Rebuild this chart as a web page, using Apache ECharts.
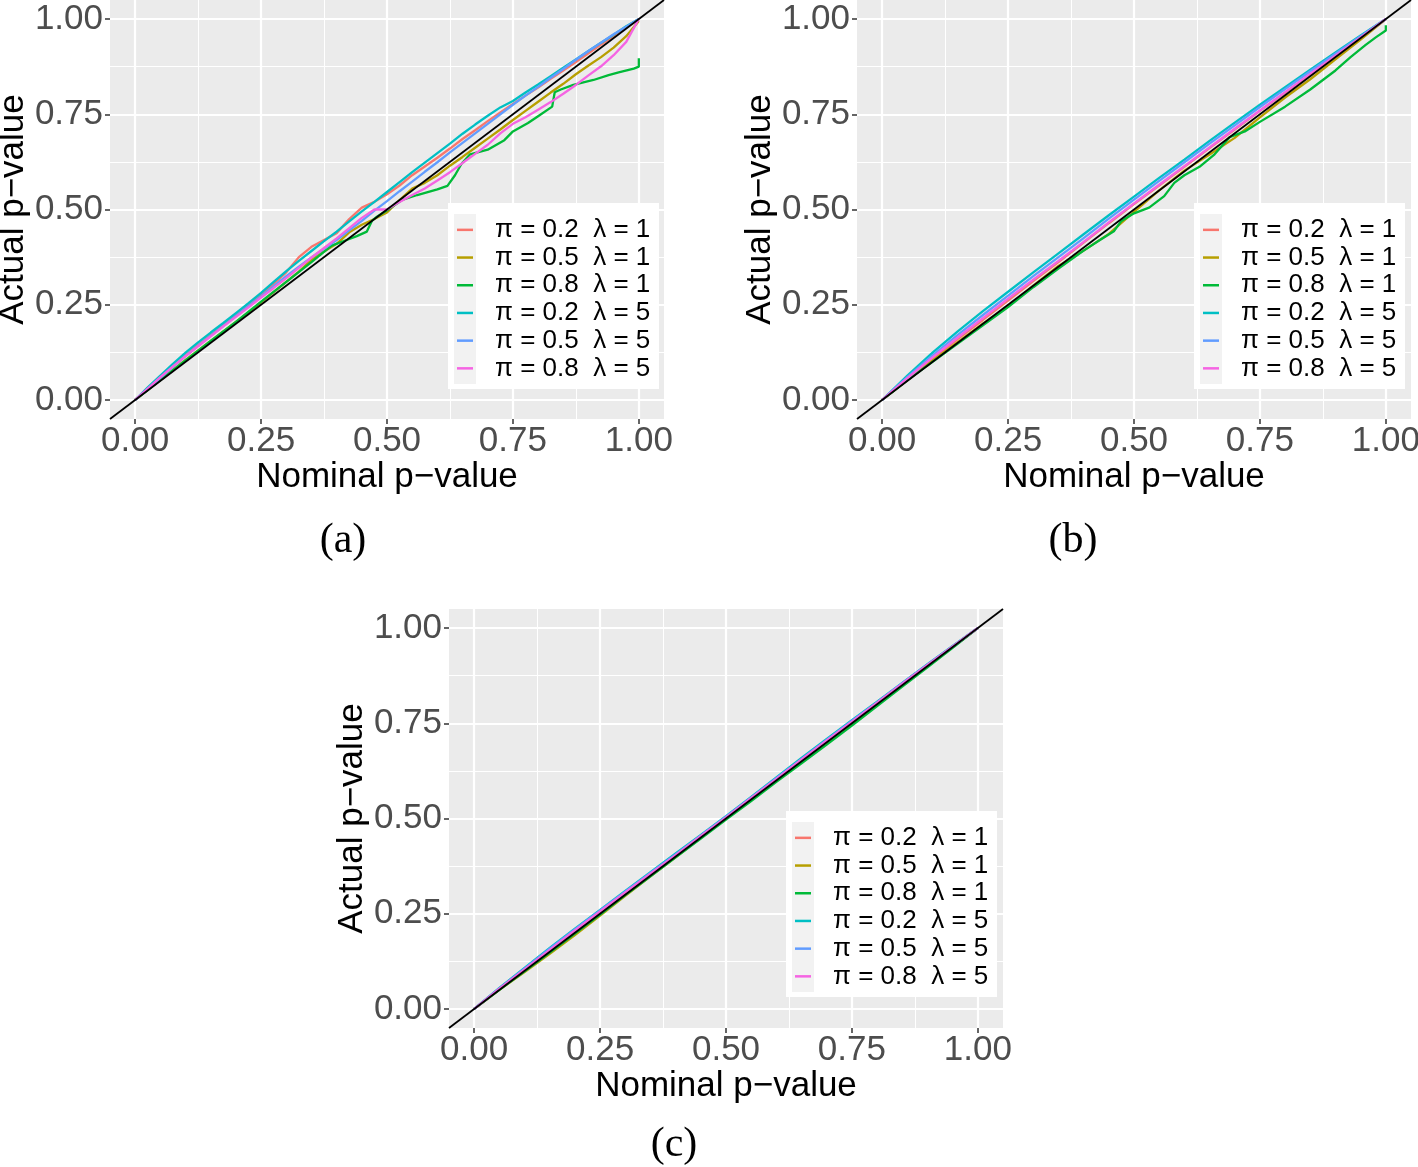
<!DOCTYPE html>
<html><head><meta charset="utf-8">
<script src="https://cdn.jsdelivr.net/npm/echarts@6/dist/echarts.min.js"></script>
<style>html,body{margin:0;padding:0;background:#fff}#c{width:1418px;height:1167px}</style>
</head><body><div id="c"></div>
<script>
// ---------- data ----------
const SERIES_NAMES = ['π = 0.2  λ = 1','π = 0.5  λ = 1','π = 0.8  λ = 1','π = 0.2  λ = 5','π = 0.5  λ = 5','π = 0.8  λ = 5'];
const SERIES_COLORS = ['#F8766D','#B79F00','#00BA38','#00BFC4','#619CFF','#F564E3'];
const MAJOR_BREAKS = [0, 0.25, 0.5, 0.75, 1];
const MINOR_BREAKS = [0.125, 0.375, 0.625, 0.875];
const X_TITLE = 'Nominal p\u2212value';
const Y_TITLE = 'Actual p\u2212value';
const CAPTIONS = ['(a)', '(b)', '(c)'];
const DIAG = [-0.05, 1.05];

// panel (a)
const NOM_A = [0,.025,.05,.075,.1,.125,.15,.175,.2,.225,.25,.275,.3,.325,.35,.375,.4,.425,.45,.475,.5,.525,.55,.575,.6,.625,.65,.675,.7,.725,.75,.775,.8,.825,.85,.875,.9,.925,.95,.975,1];
const A_RED   = [0,.03,.06,.089,.117,.144,.17,.196,.222,.249,.277,.305,.335,.375,.402,.42,.438,.475,.505,.52,.54,.563,.59,.613,.636,.66,.685,.708,.732,.755,.777,.799,.82,.843,.865,.887,.91,.933,.955,.978,1];
const A_OLIVE = [0,.027,.053,.079,.105,.13,.155,.18,.205,.23,.256,.283,.31,.337,.368,.39,.41,.44,.46,.475,.492,.525,.555,.57,.59,.615,.638,.662,.686,.71,.735,.759,.783,.807,.83,.855,.878,.9,.925,.955,.995];
const A_GREEN_X = [0,.05,.1,.15,.2,.25,.3,.35,.39,.42,.44,.46,.47,.48,.5,.53,.56,.6,.62,.635,.648,.665,.7,.733,.75,.78,.8,.828,.833,.845,.87,.91,.94,.96,.99,1,1];
const A_GREEN_Y = [0,.052,.104,.155,.205,.258,.31,.362,.405,.42,.43,.442,.47,.481,.498,.525,.538,.553,.562,.59,.62,.645,.657,.682,.705,.727,.745,.77,.808,.815,.827,.84,.853,.86,.87,.875,.897];
const A_CYAN  = [0,.033,.064,.095,.124,.151,.177,.202,.228,.254,.281,.31,.338,.365,.391,.417,.442,.469,.495,.52,.546,.572,.598,.623,.648,.673,.699,.723,.746,.768,.785,.807,.828,.85,.872,.894,.916,.938,.959,.981,1];
const A_BLUE  = [0,.03,.058,.087,.115,.142,.168,.194,.22,.246,.272,.299,.325,.35,.374,.397,.42,.445,.47,.497,.522,.548,.573,.599,.624,.65,.675,.7,.725,.75,.775,.799,.822,.846,.869,.893,.916,.938,.96,.98,1];
const A_PINK  = [0,.03,.06,.088,.115,.141,.167,.193,.218,.243,.269,.294,.32,.347,.374,.399,.424,.451,.478,.5,.5,.52,.538,.555,.576,.598,.622,.646,.67,.7,.725,.742,.762,.782,.804,.827,.852,.876,.905,.94,1];

// panel (b)
const NOM_B = [0,.05,.1,.15,.2,.25,.3,.35,.4,.45,.5,.55,.6,.65,.7,.75,.8,.85,.9,.95,1];
const B_RED   = [0,.055,.108,.16,.21,.261,.312,.362,.413,.464,.514,.563,.612,.661,.71,.759,.807,.855,.903,.951,1];
const B_OLIVE = [0,.052,.103,.152,.2,.246,.3,.352,.392,.436,.494,.55,.602,.644,.688,.742,.794,.842,.894,.946,1];
const B_GREEN_X = [0,.05,.1,.15,.2,.25,.3,.35,.4,.43,.46,.475,.5,.53,.56,.58,.6,.63,.66,.69,.72,.75,.8,.85,.9,.93,.96,.98,1,1];
const B_GREEN_Y = [0,.052,.1,.148,.196,.244,.296,.345,.392,.418,.443,.47,.49,.505,.535,.57,.59,.612,.645,.69,.705,.73,.77,.815,.865,.9,.932,.952,.97,.984];
const B_CYAN  = [0,.064,.124,.18,.233,.284,.335,.385,.435,.485,.534,.583,.631,.68,.728,.775,.821,.867,.912,.957,1];
const B_BLUE  = [0,.06,.117,.171,.223,.274,.325,.375,.425,.476,.526,.575,.624,.673,.721,.769,.816,.863,.909,.955,1];
const B_PINK  = [0,.057,.112,.164,.215,.266,.316,.365,.415,.466,.516,.565,.614,.663,.712,.76,.808,.856,.904,.952,1];

// panel (c)
const NOM_C = [0,.05,.1,.15,.2,.25,.3,.35,.4,.45,.5,.55,.6,.65,.7,.75,.8,.85,.9,.95,1];
const C_RED   = [0,.052,.103,.153,.203,.254,.304,.353,.403,.452,.502,.553,.603,.654,.704,.755,.804,.853,.902,.951,1];
const C_OLIVE = [0,.05,.097,.145,.194,.245,.297,.348,.398,.449,.499,.55,.601,.65,.701,.75,.799,.85,.9,.95,1];
const C_GREEN = [0,.05,.099,.148,.198,.248,.299,.348,.398,.447,.497,.546,.596,.645,.694,.744,.795,.846,.897,.948,1];
const C_CYAN  = [0,.055,.108,.16,.211,.26,.31,.359,.408,.457,.506,.557,.608,.659,.709,.758,.807,.856,.905,.953,1];
const C_BLUE  = [0,.054,.106,.158,.209,.259,.308,.357,.406,.455,.505,.555,.606,.656,.706,.756,.805,.855,.904,.952,1];
const C_PINK  = [0,.053,.104,.155,.206,.256,.306,.355,.404,.454,.503,.554,.604,.655,.705,.754,.804,.854,.903,.952,1];

const PANEL_SERIES = [
  [[NOM_A,A_RED],[NOM_A,A_OLIVE],[A_GREEN_X,A_GREEN_Y],[NOM_A,A_CYAN],[NOM_A,A_BLUE],[NOM_A,A_PINK]],
  [[NOM_B,B_RED],[NOM_B,B_OLIVE],[B_GREEN_X,B_GREEN_Y],[NOM_B,B_CYAN],[NOM_B,B_BLUE],[NOM_B,B_PINK]],
  [[NOM_C,C_RED],[NOM_C,C_OLIVE],[NOM_C,C_GREEN],[NOM_C,C_CYAN],[NOM_C,C_BLUE],[NOM_C,C_PINK]]
];

// ---------- layout ----------
const PANELS = [
  {left:110, top:0,   legLeft:448,  legTop:204, capX:343,  capY:541},
  {left:857, top:0,   legLeft:1194, legTop:204, capX:1073, capY:541},
  {left:449, top:609, legLeft:786,  legTop:812, capX:674,  capY:1145}
];
const PW = 554, PH = 419;
const FONT = 'Liberation Sans';

const grids = [], xAxes = [], yAxes = [], series = [], legends = [], graphics = [];
PANELS.forEach((p, k) => {
  grids.push({left:p.left, top:p.top, width:PW, height:PH, show:true, backgroundColor:'#EBEBEB',
    borderWidth:0, containLabel:false, outerBoundsMode:'none'});
  const common = {type:'value', gridIndex:k, min:DIAG[0], max:DIAG[1]};
  xAxes.push(Object.assign({}, common, {
    position:'bottom',
    axisLine:{show:false, onZero:false},
    axisTick:{show:true, customValues:MAJOR_BREAKS, length:5, lineStyle:{color:'#333333', width:1.5}},
    axisLabel:{customValues:MAJOR_BREAKS, formatter:v=>v.toFixed(2), color:'#4D4D4D', fontSize:35, fontFamily:FONT, margin:5},
    splitLine:{show:true, lineStyle:{color:'#FFFFFF', width:2.2}},
    name:X_TITLE, nameLocation:'middle', nameGap:41, nameMoveOverlap:false,
    nameTextStyle:{color:'#000', fontSize:35, fontFamily:FONT}
  }));
  xAxes.push(Object.assign({}, common, {
    position:'bottom',
    axisLine:{show:false, onZero:false},
    axisTick:{show:false, customValues:MINOR_BREAKS},
    axisLabel:{show:false, customValues:MINOR_BREAKS},
    splitLine:{show:true, lineStyle:{color:'#FFFFFF', width:1}}
  }));
  yAxes.push(Object.assign({}, common, {
    position:'left',
    axisLine:{show:false, onZero:false},
    axisTick:{show:true, customValues:MAJOR_BREAKS, length:5, lineStyle:{color:'#333333', width:1.5}},
    axisLabel:{customValues:MAJOR_BREAKS, formatter:v=>v.toFixed(2), color:'#4D4D4D', fontSize:35, fontFamily:FONT, margin:7},
    splitLine:{show:true, lineStyle:{color:'#FFFFFF', width:2.2}},
    name:Y_TITLE, nameLocation:'middle', nameGap:79, nameMoveOverlap:false,
    nameTextStyle:{color:'#000', fontSize:35, fontFamily:FONT}
  }));
  yAxes.push(Object.assign({}, common, {
    position:'left',
    axisLine:{show:false, onZero:false},
    axisTick:{show:false, customValues:MINOR_BREAKS},
    axisLabel:{show:false, customValues:MINOR_BREAKS},
    splitLine:{show:true, lineStyle:{color:'#FFFFFF', width:1}}
  }));
  PANEL_SERIES[k].forEach((pair, i) => {
    const xs = pair[0], ys = pair[1];
    series.push({
      type:'line', name:SERIES_NAMES[i], xAxisIndex:2*k, yAxisIndex:2*k,
      data: xs.map((x, j) => [x, ys[j]]),
      symbol:'none', showSymbol:false, smooth:false, z:2,
      lineStyle:{color:SERIES_COLORS[i], width:2.3}, itemStyle:{color:SERIES_COLORS[i]},
      emphasis:{disabled:true}, silent:true, animation:false
    });
  });
  series.push({
    type:'line', name:'diag', xAxisIndex:2*k, yAxisIndex:2*k,
    data:[[DIAG[0], DIAG[0]], [DIAG[1], DIAG[1]]],
    symbol:'none', z:3, lineStyle:{color:'#000', width:1.8}, silent:true, animation:false
  });
  // legend box (white) and key column
  graphics.push({type:'rect', x:p.legLeft, y:p.legTop-1, shape:{width:211, height:186}, style:{fill:'#FFFFFF'}, z:10, silent:true});
  graphics.push({type:'rect', x:p.legLeft+6, y:p.legTop+10, shape:{width:22, height:170}, style:{fill:'#F2F2F2'}, z:11, silent:true});
  legends.push({
    orient:'vertical', left:p.legLeft+9, top:p.legTop+12, padding:0, z:20,
    icon:'rect', itemWidth:16, itemHeight:2.5, itemGap:0, selectedMode:false,
    data:SERIES_NAMES,
    textStyle:{fontSize:26, fontFamily:FONT, color:'#000', lineHeight:27.7, padding:[0,0,0,17]}
  });
  graphics.push({type:'text', x:p.capX, y:p.capY, z:20,
    style:{text:CAPTIONS[k], font:'42px "Liberation Serif"', fill:'#000', textAlign:'center', textVerticalAlign:'middle'}});
});

const chart = echarts.init(document.getElementById('c'), null, {renderer:'canvas', width:1418, height:1167});
chart.setOption({
  animation:false,
  backgroundColor:'#FFFFFF',
  grid:grids, xAxis:xAxes, yAxis:yAxes, series:series, legend:legends, graphic:graphics
});
</script>
</body></html>
